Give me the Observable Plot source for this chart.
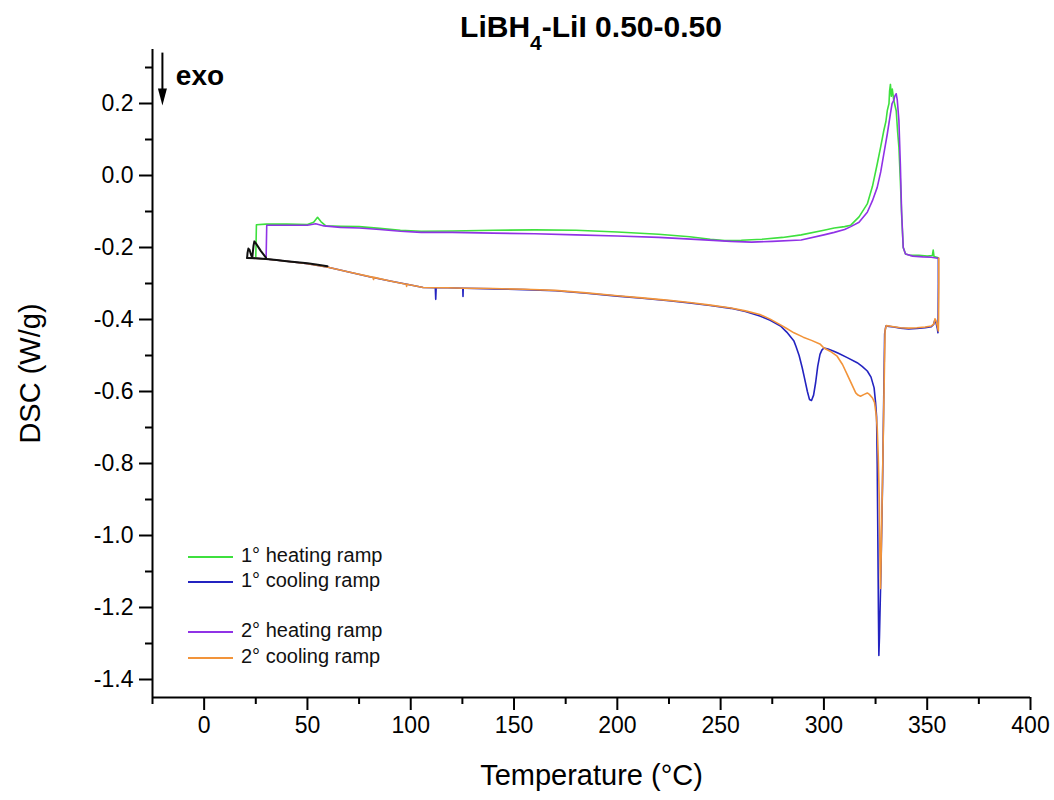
<!DOCTYPE html>
<html>
<head>
<meta charset="utf-8">
<script src="https://cdn.jsdelivr.net/npm/d3@7"></script>
<script src="https://cdn.jsdelivr.net/npm/@observablehq/plot@0.6"></script>
<style>
  html, body { margin: 0; padding: 0; background: #fff; }
  #wrap { position: relative; width: 1054px; height: 800px; font-family: Arial, "Liberation Sans", sans-serif; }
  #title { height: 45px; box-sizing: border-box; padding: 12px 24px 0 152px; text-align: center;
           font-size: 30px; line-height: 30px; font-weight: bold; color: #000; }
  #title sub { font-size: 0.7em; vertical-align: -13px; line-height: 0; }
  .lg-row { position: absolute; height: 24px; line-height: 24px; font-size: 20px; color: #111; white-space: nowrap; }
  .lg-row svg { vertical-align: middle; margin-right: 8px; }
</style>
</head>
<body>
<div id="wrap">
  <div id="title">LiBH<sub>4</sub>-LiI 0.50-0.50</div>
  <div id="chart"></div>
</div>
<script>
// ---- data (Temperature °C, DSC W/g) ----
const heating1 = [[25.0,-0.226],[25.3,-0.137],[30,-0.135],[40,-0.135],[50,-0.136],[53,-0.13],[54.9,-0.116],[56.5,-0.128],[58.9,-0.14],[66,-0.141],[75,-0.142],[85,-0.147],[95,-0.152],[105,-0.155],[120,-0.154],[140,-0.152],[160,-0.151],[180,-0.152],[200,-0.157],[220,-0.163],[235,-0.17],[245,-0.177],[252,-0.181],[260,-0.18],[270,-0.177],[280,-0.172],[289,-0.165],[300,-0.152],[305,-0.146],[310,-0.142],[313,-0.138],[317,-0.115],[321,-0.079],[323.5,-0.03],[325.8,0.032],[327.5,0.08],[329,0.125],[330,0.15],[330.7,0.181],[331.5,0.2],[331.8,0.235],[332.2,0.253],[332.6,0.22],[333.1,0.24],[333.8,0.209],[335,0.18],[335.7,0.12],[336.3,0.079],[337,-0.014],[337.7,-0.12],[338.4,-0.2],[339.5,-0.218],[342,-0.222],[346,-0.222],[350,-0.224],[352.5,-0.222],[352.9,-0.207],[353.3,-0.225],[355,-0.228]];
const cooling1 = [[355.4,-0.229],[355.4,-0.30],[355.3,-0.40],[355.2,-0.437],[354.9,-0.425],[354.3,-0.41],[353.6,-0.403],[353.1,-0.414],[352,-0.42],[349,-0.423],[345,-0.425],[341,-0.426],[337,-0.424],[333.8,-0.421],[331.5,-0.419],[330,-0.418],[329.4,-0.44],[329,-0.6],[328.4,-0.85],[327.6,-1.1],[326.9,-1.28],[326.6,-1.333],[326.4,-1.22],[326.1,-1.0],[325.8,-0.8],[325.5,-0.67],[325,-0.63],[324.3,-0.59],[322.8,-0.56],[321,-0.543],[318.5,-0.53],[316.1,-0.52],[311.3,-0.506],[307,-0.494],[304.8,-0.488],[302,-0.482],[300,-0.479],[299,-0.485],[298.1,-0.497],[297,-0.53],[296,-0.575],[295,-0.61],[294,-0.625],[293,-0.622],[292,-0.6],[290.5,-0.56],[289.5,-0.534],[288,-0.5],[286.5,-0.475],[285.5,-0.46],[282,-0.435],[279,-0.418],[274,-0.402],[269,-0.39],[262,-0.378],[255,-0.369],[245,-0.361],[235,-0.354],[225,-0.348],[212,-0.341],[200,-0.335],[185,-0.327],[170,-0.32],[155,-0.317],[140,-0.315],[126,-0.313],[125.4,-0.313],[125.3,-0.336],[125.2,-0.313],[118,-0.312],[112.3,-0.312],[112.1,-0.344],[111.9,-0.312],[106,-0.311],[100,-0.304],[90,-0.293],[80,-0.281],[70,-0.268],[60,-0.255],[50,-0.245],[40,-0.238],[30,-0.232],[22,-0.229]];
const heating2 = [[30.0,-0.228],[30.3,-0.138],[40,-0.138],[50,-0.138],[54,-0.134],[58,-0.14],[66,-0.144],[75,-0.146],[85,-0.15],[95,-0.155],[105,-0.158],[120,-0.158],[140,-0.16],[160,-0.162],[180,-0.165],[200,-0.168],[220,-0.172],[240,-0.178],[255,-0.183],[265,-0.185],[275,-0.183],[289,-0.179],[300,-0.165],[305,-0.158],[310,-0.15],[313,-0.142],[317,-0.13],[321,-0.102],[323.5,-0.07],[325.8,-0.033],[327.5,0.01],[329,0.06],[330.7,0.116],[332.2,0.172],[333,0.2],[333.8,0.209],[334.4,0.222],[335,0.227],[335.5,0.21],[336.3,0.153],[337,0.032],[337.6,-0.1],[338.4,-0.2],[339.5,-0.218],[343,-0.224],[348,-0.226],[352,-0.227],[355,-0.23]];
const cooling2 = [[355.6,-0.229],[355.6,-0.30],[355.5,-0.40],[355.4,-0.432],[355,-0.42],[354.4,-0.405],[353.8,-0.398],[353.2,-0.412],[352,-0.418],[349,-0.421],[345,-0.423],[341,-0.424],[337,-0.423],[333.8,-0.42],[331.5,-0.418],[330.2,-0.417],[329.6,-0.43],[329.1,-0.6],[328.5,-0.8],[327.9,-1.0],[327.4,-1.147],[327.1,-1.05],[326.8,-0.9],[326.3,-0.78],[325.8,-0.7],[325.2,-0.66],[324.5,-0.63],[323.5,-0.618],[322,-0.608],[321,-0.604],[319.5,-0.608],[317.7,-0.613],[316.5,-0.61],[315.4,-0.604],[313.5,-0.58],[311.3,-0.553],[309,-0.525],[306.4,-0.502],[303,-0.488],[300,-0.479],[298.3,-0.469],[294,-0.458],[290,-0.449],[285.5,-0.437],[282,-0.425],[279,-0.415],[274,-0.399],[269,-0.386],[262,-0.376],[255,-0.368],[245,-0.36],[235,-0.353],[225,-0.347],[212,-0.34],[200,-0.334],[185,-0.326],[170,-0.319],[155,-0.316],[140,-0.314],[126,-0.313],[118,-0.312],[106,-0.311],[98.2,-0.302],[98,-0.308],[97.8,-0.302],[90,-0.293],[82.2,-0.283],[82,-0.289],[81.8,-0.283],[70,-0.268],[60,-0.255],[50,-0.245],[40,-0.238],[30,-0.232],[22,-0.229]];
const startLoop = [[20.8,-0.229],[21.0,-0.215],[21.4,-0.203],[22.0,-0.207],[22.8,-0.222],[23.3,-0.228],[23.9,-0.195],[24.3,-0.183],[25.2,-0.19],[27.5,-0.21],[29.9,-0.228]];
const startBase = [[20.8,-0.229],[25,-0.230],[30,-0.232],[35,-0.235],[40,-0.238],[45,-0.241],[50,-0.244],[55,-0.248],[59.7,-0.252]];

const seriesNames = ["1° heating ramp", "1° cooling ramp", "2° heating ramp", "2° cooling ramp"];
const seriesColors = ["#3ee03e", "#2323c0", "#9032e6", "#f2943a"];

const xMajor = [0, 50, 100, 150, 200, 250, 300, 350, 400];
const xMinor = [-25, 25, 75, 125, 175, 225, 275, 325, 375];
const yMajor = [0.2, 0.0, -0.2, -0.4, -0.6, -0.8, -1.0, -1.2, -1.4];
const yMinor = [0.3, 0.1, -0.1, -0.3, -0.5, -0.7, -0.9, -1.1, -1.3];
const xDomain = [-25, 400];
const yDomain = [-1.45, 0.35];
const exoArrow = {x: -20.2, top: 0.34, shaftEnd: 0.236, head: 0.2184};
const exoLabel = {x: -13.7, y: 0.275, text: "exo"};
const xLabel = "Temperature (°C)";
const yLabel = "DSC (W/g)";

const toRows = arr => arr.map(([T, v]) => ({T, v}));

const headSymbol = {
  draw(ctx) {
    ctx.moveTo(-4.5, -8.5);
    ctx.lineTo(4.5, -8.5);
    ctx.lineTo(0, 8.5);
    ctx.closePath();
  }
};

const chart = Plot.plot({
  width: 1054,
  height: 755,
  marginLeft: 152,
  marginRight: 24,
  marginTop: 4,
  marginBottom: 103,
  style: {fontFamily: "Arial, 'Liberation Sans', sans-serif", color: "#000", background: "#fff"},
  x: {domain: xDomain},
  y: {domain: yDomain},
  marks: [
    Plot.line(toRows(heating1), {x: "T", y: "v", stroke: seriesColors[0], strokeWidth: 1.6}),
    Plot.line(toRows(cooling1), {x: "T", y: "v", stroke: seriesColors[1], strokeWidth: 1.6}),
    Plot.line(toRows(heating2), {x: "T", y: "v", stroke: seriesColors[2], strokeWidth: 1.6}),
    Plot.line(toRows(cooling2), {x: "T", y: "v", stroke: seriesColors[3], strokeWidth: 1.6}),
    Plot.line(toRows(startBase), {x: "T", y: "v", stroke: "#111", strokeWidth: 2}),
    Plot.line(toRows(startLoop), {x: "T", y: "v", stroke: "#111", strokeWidth: 2}),
    // axis lines
    Plot.ruleY([yDomain[0]], {stroke: "#000", strokeWidth: 2}),
    Plot.ruleX([xDomain[0]], {stroke: "#000", strokeWidth: 2}),
    // ticks
    Plot.axisX(xMajor, {tickSize: 13, tickPadding: 6, fontSize: 23, strokeWidth: 2, label: null, tickFormat: d => String(d)}),
    Plot.axisX(xMinor, {tickSize: 7, strokeWidth: 2, label: null, tickFormat: () => ""}),
    Plot.axisY(yMajor, {tickSize: 13, tickPadding: 6, fontSize: 23, strokeWidth: 2, label: null, tickFormat: d => d.toFixed(1)}),
    Plot.axisY(yMinor, {tickSize: 7, strokeWidth: 2, label: null, tickFormat: () => ""}),
    // axis titles
    Plot.text([xLabel], {frameAnchor: "bottom", dy: 78, lineAnchor: "middle", textAnchor: "middle", text: d => d, fontSize: 29, fill: "#000"}),
    Plot.text([yLabel], {frameAnchor: "left", dx: -122, rotate: -90, lineAnchor: "middle", textAnchor: "middle", text: d => d, fontSize: 29, fill: "#000"}),
    // exo arrow
    Plot.ruleX([exoArrow.x], {y1: exoArrow.top, y2: exoArrow.shaftEnd, stroke: "#000", strokeWidth: 2}),
    Plot.dot([exoArrow], {x: "x", y: "head", symbol: headSymbol, fill: "#000", stroke: "none"}),
    Plot.text([exoLabel], {x: "x", y: "y", text: "text", textAnchor: "start", fontSize: 28, fontWeight: "bold", fill: "#000"})
  ]
});
document.getElementById("chart").appendChild(chart);

// legend overlay (inside plot area, as in the reference)
const wrap = document.getElementById("wrap");
const legendTops = [543, 568, 618, 644];
seriesNames.forEach((name, i) => {
  const row = document.createElement("div");
  row.className = "lg-row";
  row.style.left = "188px";
  row.style.top = legendTops[i] + "px";
  row.innerHTML = `<svg width="45" height="4"><line x1="0" y1="2" x2="45" y2="2" stroke="${seriesColors[i]}" stroke-width="2"/></svg>${name}`;
  wrap.appendChild(row);
});
</script>
</body>
</html>
